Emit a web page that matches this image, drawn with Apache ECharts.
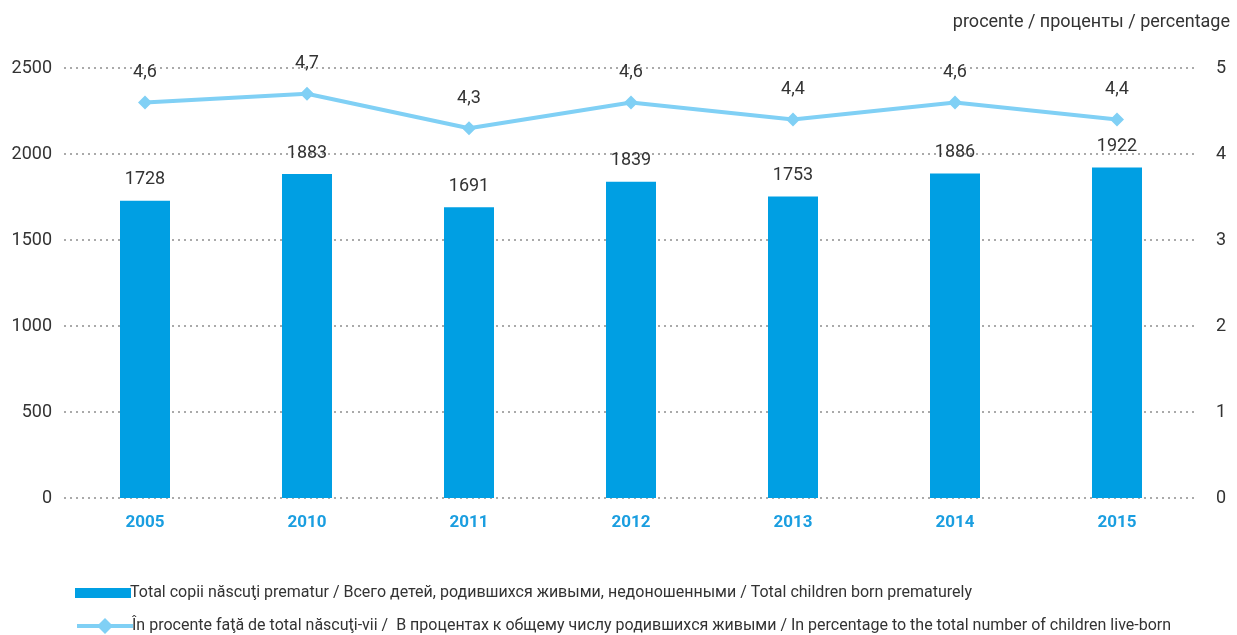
<!DOCTYPE html>
<html><head><meta charset="utf-8">
<script src="https://cdn.jsdelivr.net/npm/echarts@6/dist/echarts.min.js"></script>
<style>html,body{margin:0;padding:0;background:#fff}#c{width:1237px;height:635px}</style>
</head><body><div id="c"></div>
<script>
const categories = ['2005','2010','2011','2012','2013','2014','2015'];
const totalPremature = [1728,1883,1691,1839,1753,1886,1922];
const percentLive = [4.6,4.7,4.3,4.6,4.4,4.6,4.4];
const barName = 'Total copii născuţi prematur / Всего детей, родившихся живыми, недоношенными / Total children born prematurely';
const lineName = 'În procente faţă de total născuţi-vii /  В процентах к общему числу родившихся живыми / In percentage to the total number of children live-born';
const unitLabel = 'procente / проценты / percentage';

const FONT = 'Roboto';
const legendText = {fontFamily: FONT, fontSize: 16, color: '#333', padding: [0,0,0,-6]};
const chart = echarts.init(document.getElementById('c'));
chart.setOption({
  animation: false,
  textStyle: {fontFamily: FONT},
  title: {text: unitLabel, right: 2, top: 8, textStyle: {fontFamily: FONT, fontSize: 18, fontWeight: 'normal', color: '#333'}},
  grid: {left: 64, right: 39, top: 68, bottom: 137},
  legend: [
    {left: 70, top: 580, itemWidth: 56, itemHeight: 10, textStyle: legendText,
     data: [{name: barName, icon: 'rect'}]},
    {left: 70, top: 613, itemWidth: 56, itemHeight: 20, textStyle: legendText,
     lineStyle: {width: 4}, data: [{name: lineName}]}
  ],
  xAxis: {
    type: 'category', data: categories,
    axisLine: {show: false}, axisTick: {show: false},
    axisLabel: {color: '#1a9ee0', fontWeight: 'bold', fontSize: 17, margin: 16, fontFamily: FONT}
  },
  yAxis: [
    {type: 'value', min: 0, max: 2500, interval: 500,
     axisLabel: {color: '#333', fontSize: 18, margin: 12, formatter: v => String(v)},
     splitLine: {lineStyle: {type: [2,4], color: '#aaa', width: 2}}},
    {type: 'value', min: 0, max: 5, interval: 1,
     axisLabel: {color: '#333', fontSize: 18, margin: 18},
     splitLine: {show: false}}
  ],
  series: [
    {name: barName, type: 'bar', data: totalPremature, barWidth: 50, yAxisIndex: 0,
     itemStyle: {color: '#009fe3'},
     label: {show: true, position: 'top', distance: 12, color: '#333', fontSize: 18}},
    {name: lineName, type: 'line', data: percentLive, yAxisIndex: 1,
     symbol: 'diamond', symbolSize: 14, lineStyle: {color: '#80d0f5', width: 4},
     itemStyle: {color: '#80d0f5'},
     label: {show: true, position: 'top', distance: 14, color: '#333', fontSize: 18,
       formatter: p => String(p.value).replace('.', ',')}}
  ]
});
</script></body></html>
